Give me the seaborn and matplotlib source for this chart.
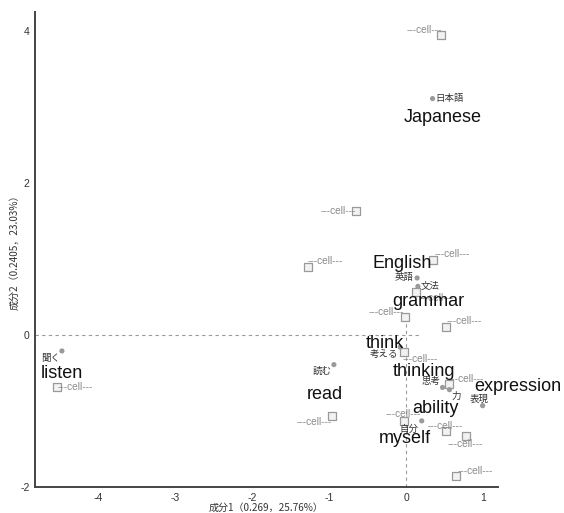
import matplotlib
matplotlib.use("Agg")
import matplotlib.pyplot as plt
import seaborn as sns
import pandas as pd

# Word coordinates on the first two components
words_ja = ["日本語", "英語", "文法", "考える", "読む", "聞く", "思考", "力", "表現", "自分"]
words_en = ["Japanese", "English", "grammar", "think", "read", "listen",
            "thinking", "ability", "expression", "myself"]
word_x = [0.34, 0.14, 0.15, -0.08, -0.94, -4.47, 0.47, 0.56, 0.99, 0.20]
word_y = [3.11, 0.75, 0.64, -0.16, -0.39, -0.21, -0.69, -0.72, -0.93, -1.13]

# Cell coordinates
cell_labels = ["---cell---"] * 15
cell_x = [0.455, -0.65, -1.28, 0.35, 0.13, -0.02, 0.51, -0.035, 0.55,
          -0.965, -0.035, 0.51, 0.77, 0.65, -4.54]
cell_y = [3.95, 1.63, 0.90, 0.99, 0.56, 0.24, 0.105, -0.22, -0.65,
          -1.06, -1.13, -1.26, -1.33, -1.855, -0.69]

x_label = "成分1（0.269，25.76%）"
y_label = "成分2（0.2405，23.03%）"

# Label placement (pixel offsets, screen direction: +x right, +y down)
ja_offsets = [(3, 0, "left"), (-3, 0, "right"), (3, 0, "left"), (-2, 7, "right"),
              (-2, 7, "right"), (-2, 8, "right"), (-2, -6, "right"), (7, 7, "center"),
              (-3, -6, "center"), (-3, 8, "right")]
en_offsets = [(10, 19), (-15, -14), (10, 15), (-15, -4), (-9, 30), (0, 23),
              (-19, -16), (-14, 19), (35, -19), (-17, 18)]
cell_offsets = [(-17, -5), (-18, 0), (18, -6), (19, -6), (20, 6), (-19, -5),
                (19, -6), (17, 7), (18, -5), (-18, 6), (0, -7), (0, -5),
                (0, 8), (19, -5), (19, 0)]

sns.set_style("white")
plt.rcParams["font.family"] = ["Liberation Sans", "Noto Sans CJK JP", "DejaVu Sans"]
plt.rcParams["axes.unicode_minus"] = False
cjk = ["Noto Sans CJK JP", "DejaVu Sans"]

words = pd.DataFrame({"x": word_x, "y": word_y, "ja": words_ja, "en": words_en})
cells = pd.DataFrame({"x": cell_x, "y": cell_y, "label": cell_labels})

fig = plt.figure(figsize=(5.64, 5.13), dpi=100)
ax = fig.add_axes([0.062, 0.0507, 0.821, 0.926])

ax.set_xlim(-4.82, 1.19)
ax.set_ylim(-2.0, 4.25)

ax.axhline(0, xmax=0.83, color="#999999", lw=0.8, ls=(0, (3, 3)), zorder=1)
ax.axvline(0, ymax=0.35, color="#999999", lw=0.8, ls=(0, (3, 3)), zorder=1)

sns.scatterplot(data=cells, x="x", y="y", marker="s", s=30,
                facecolor="#f2f2f2", edgecolor="#999999", linewidth=0.9,
                ax=ax, zorder=2)
sns.scatterplot(data=words, x="x", y="y", marker="o", s=14,
                color="#9a9a9a", edgecolor="none", ax=ax, zorder=3)

for (_, r), (dx, dy) in zip(cells.iterrows(), cell_offsets):
    ax.annotate(r["label"], (r["x"], r["y"]), xytext=(dx, -dy),
                textcoords="offset pixels", ha="center", va="center",
                fontsize=7.3, color="#8a8a8a", zorder=4)

for (_, r), (dx, dy, ha) in zip(words.iterrows(), ja_offsets):
    ax.annotate(r["ja"], (r["x"], r["y"]), xytext=(dx, -dy),
                textcoords="offset pixels", ha=ha, va="center",
                fontsize=6.8, color="#333333", family=cjk, zorder=5)

for (_, r), (dx, dy) in zip(words.iterrows(), en_offsets):
    ax.annotate(r["en"], (r["x"], r["y"]), xytext=(dx, -dy),
                textcoords="offset pixels", ha="center", va="center",
                fontsize=13, color="#111111", zorder=6)

ax.set_xticks([-4, -3, -2, -1, 0, 1])
ax.set_yticks([-2, 0, 2, 4])
ax.tick_params(axis="both", labelsize=7.5, colors="#333333", length=2.5,
               width=0.8, pad=1.5)
for lab in ax.get_xticklabels() + ax.get_yticklabels():
    lab.set_color("#333333")

ax.set_xlabel(x_label, fontsize=7.2, color="#333333", family=cjk, labelpad=0)
ax.set_ylabel(y_label, fontsize=7.2, color="#333333", family=cjk, labelpad=0.5)

for side in ["top", "right"]:
    ax.spines[side].set_visible(False)
for side in ["left", "bottom"]:
    ax.spines[side].set_color("#444444")
    ax.spines[side].set_linewidth(1.4)

fig.savefig("out.png", dpi=100)
